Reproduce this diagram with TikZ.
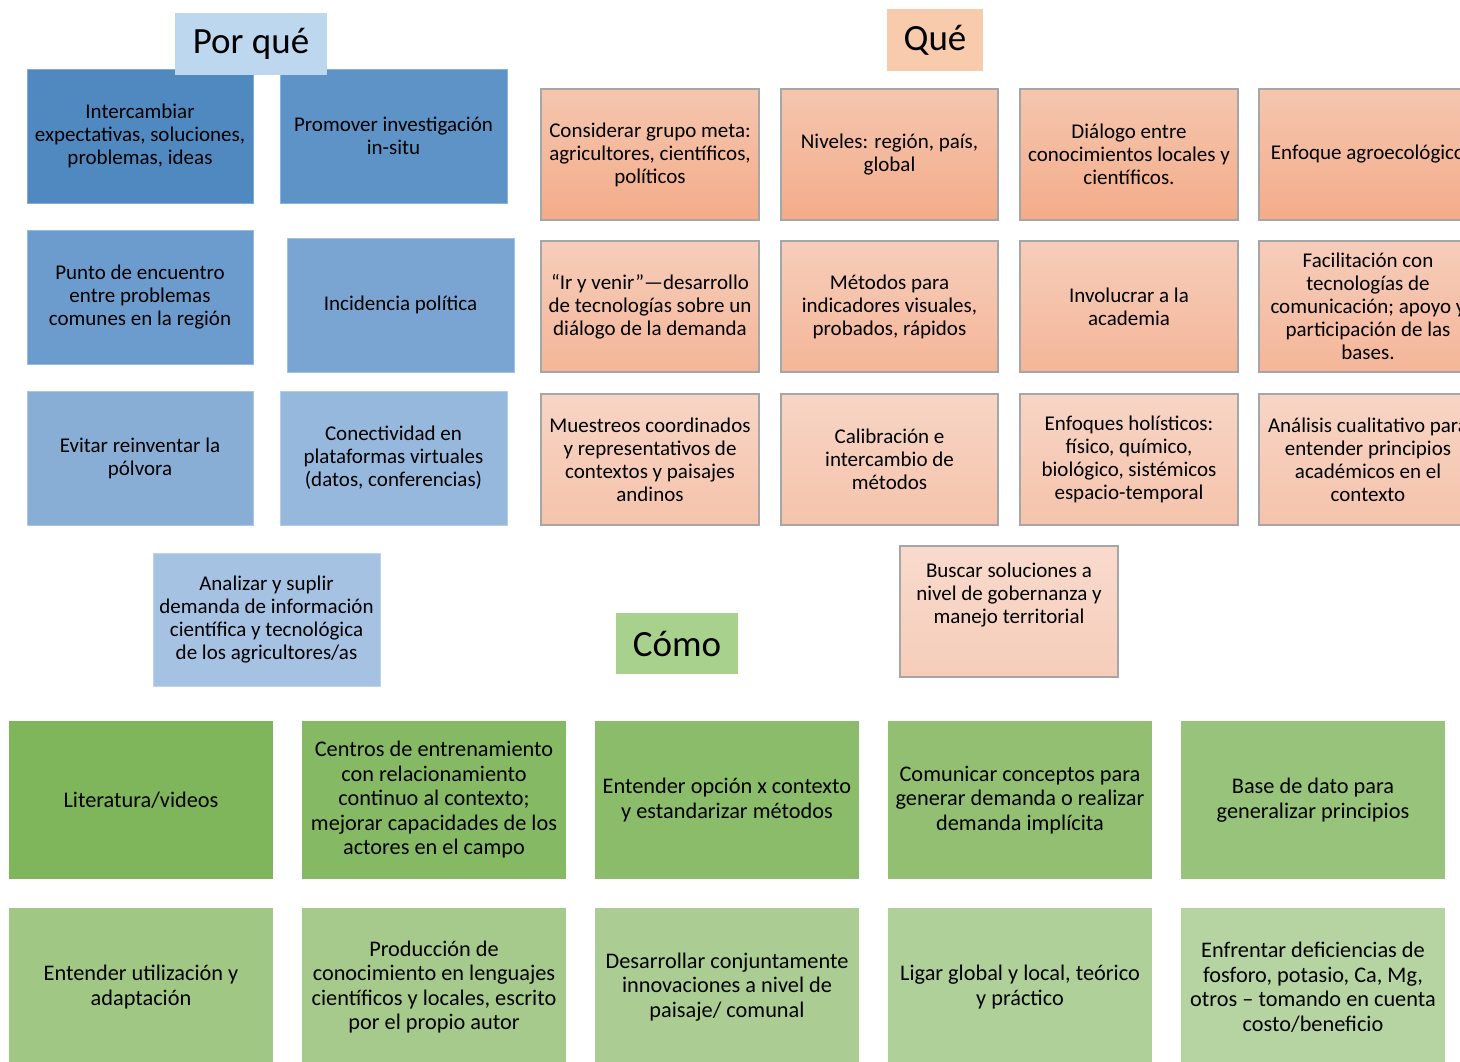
\documentclass[tikz,border=0pt]{standalone}
\usepackage{fontspec}
\setmainfont{Carlito}
\begin{document}
\begin{tikzpicture}[x=1pt,y=-1pt,
  base/.style={rectangle,inner sep=0pt,align=center,text=black},
  title/.style={base,font=\fontsize{37}{40}\selectfont},
  blue/.style={base,font=\fontsize{21}{23}\selectfont,minimum width=226pt,minimum height=134pt,fill=#1,draw=#1!70!white,line width=0.8pt},
  que/.style={base,font=\fontsize{21}{23}\selectfont,minimum width=218pt,minimum height=131pt,draw=gray!70,line width=1.2pt},
  green/.style={base,font=\fontsize{22.3}{24.5}\selectfont,minimum width=264pt,minimum height=158pt,fill=#1}]
\definecolor{b1}{HTML}{4F89C0}
\definecolor{b2}{HTML}{5E93C8}
\definecolor{b3}{HTML}{6C9CCD}
\definecolor{b4}{HTML}{7AA5D2}
\definecolor{b5}{HTML}{88AED6}
\definecolor{b6}{HTML}{96B8DC}
\definecolor{b7}{HTML}{A5C2E3}
\definecolor{tblue}{HTML}{BDD7EE}
\definecolor{torange}{HTML}{F8CBAD}
\definecolor{tgreen}{HTML}{A9D18E}
\definecolor{o1t}{HTML}{F4C6AF}
\definecolor{o1b}{HTML}{F4AC89}
\definecolor{o2t}{HTML}{F6CDBA}
\definecolor{o2b}{HTML}{F4B698}
\definecolor{o3t}{HTML}{F7D5C5}
\definecolor{o3b}{HTML}{F5C3AB}
\definecolor{o4t}{HTML}{F8DACC}
\definecolor{o4b}{HTML}{F6CDBA}
\definecolor{g1}{HTML}{7FB55B}
\definecolor{g2}{HTML}{86B964}
\definecolor{g3}{HTML}{8BBC6A}
\definecolor{g4}{HTML}{92BF72}
\definecolor{g5}{HTML}{98C37B}
\definecolor{g6}{HTML}{A0C784}
\definecolor{g7}{HTML}{A6CA8B}
\definecolor{g8}{HTML}{ABCD93}
\definecolor{g9}{HTML}{B0D099}
\definecolor{g10}{HTML}{B6D4A1}
\useasboundingbox[fill=white] (0,0) rectangle (1460,1062);

% ---- Por qué ----
\node[blue=b1] (pq1) at (140,136) {Intercambiar\\expectativas, soluciones,\\problemas, ideas};
\node[blue=b2,minimum width=227pt] (pq2) at (393.5,136) {Promover investigación\\in-situ};
\node[blue=b3] (pq3) at (140,297) {Punto de encuentro\\entre problemas\\comunes en la región};
\node[blue=b4,minimum width=227pt] (pq4) at (400.5,305) {Incidencia política};
\node[blue=b5] (pq5) at (140,458) {Evitar reinventar la\\pólvora};
\node[blue=b6,minimum width=227pt] (pq6) at (393.5,458) {Conectividad en\\plataformas virtuales\\(datos, conferencias)};
\node[blue=b7,minimum width=227pt,minimum height=133pt] (pq7) at (266.5,619.5) {Analizar y suplir\\demanda de información\\científica y tecnológica\\de los agricultores/as};
\node[title,fill=tblue,minimum width=152pt,minimum height=62pt] (tpq) at (251,44) {Por qué};

% ---- Qué ----
\node[title,fill=torange,minimum width=96pt,minimum height=62pt] (tq) at (935,40) {Qué};
\node[que,top color=o1t,bottom color=o1b] (q11) at (650,154.5) {Considerar grupo meta:\\agricultores, científicos,\\políticos};
\node[que,top color=o1t,bottom color=o1b,minimum width=217pt] (q12) at (889.5,154.5) {Niveles: región, país,\\global};
\node[que,top color=o1t,bottom color=o1b] (q13) at (1129,154.5) {Diálogo entre\\conocimientos locales y\\científicos.};
\node[que,top color=o1t,bottom color=o1b] (q14) at (1368,154.5) {Enfoque agroecológico};
\node[que,top color=o2t,bottom color=o2b] (q21) at (650,306.5) {“Ir y venir”—desarrollo\\de tecnologías sobre un\\diálogo de la demanda};
\node[que,top color=o2t,bottom color=o2b,minimum width=217pt] (q22) at (889.5,306.5) {Métodos para\\indicadores visuales,\\probados, rápidos};
\node[que,top color=o2t,bottom color=o2b] (q23) at (1129,306.5) {Involucrar a la\\academia};
\node[que,top color=o2t,bottom color=o2b] (q24) at (1368,306.5) {Facilitación con\\tecnologías de\\comunicación; apoyo y\\participación de las\\bases.};
\node[que,top color=o3t,bottom color=o3b] (q31) at (650,459.5) {Muestreos coordinados\\y representativos de\\contextos y paisajes\\andinos};
\node[que,top color=o3t,bottom color=o3b,minimum width=217pt] (q32) at (889.5,459.5) {Calibración e\\intercambio de\\métodos};
\node[que,top color=o3t,bottom color=o3b] (q33) at (1129,459.5) {Enfoques holísticos:\\físico, químico,\\biológico, sistémicos\\espacio-temporal};
\node[que,top color=o3t,bottom color=o3b] (q34) at (1368,459.5) {Análisis cualitativo para\\entender principios\\académicos en el\\contexto};
\node[que,top color=o4t,bottom color=o4b] (q4) at (1009,611.5) {};
\node[base,font=\fontsize{21}{23}\selectfont] (q4t) at (1009,595) {Buscar soluciones a\\nivel de gobernanza y\\manejo territorial};

% ---- Cómo ----
\node[title,fill=tgreen,minimum width=122pt,minimum height=61pt] (tc) at (677,643.5) {Cómo};
\node[green=g1] (c11) at (141,800) {Literatura/videos};
\node[green=g2] (c12) at (434,800) {Centros de entrenamiento\\con relacionamiento\\continuo al contexto;\\mejorar capacidades de los\\actores en el campo};
\node[green=g3] (c13) at (727,800) {Entender opción x contexto\\y estandarizar métodos};
\node[green=g4] (c14) at (1020,800) {Comunicar conceptos para\\generar demanda o realizar\\demanda implícita};
\node[green=g5] (c15) at (1313,800) {Base de dato para\\generalizar principios};
\node[green=g6] (c21) at (141,987) {Entender utilización y\\adaptación};
\node[green=g7] (c22) at (434,987) {Producción de\\conocimiento en lenguajes\\científicos y locales, escrito\\por el propio autor};
\node[green=g8] (c23) at (727,987) {Desarrollar conjuntamente\\innovaciones a nivel de\\paisaje/ comunal};
\node[green=g9] (c24) at (1020,987) {Ligar global y local, teórico\\y práctico};
\node[green=g10] (c25) at (1313,987) {Enfrentar deficiencias de\\fosforo, potasio, Ca, Mg,\\otros – tomando en cuenta\\costo/beneficio};
\end{tikzpicture}
\end{document}
